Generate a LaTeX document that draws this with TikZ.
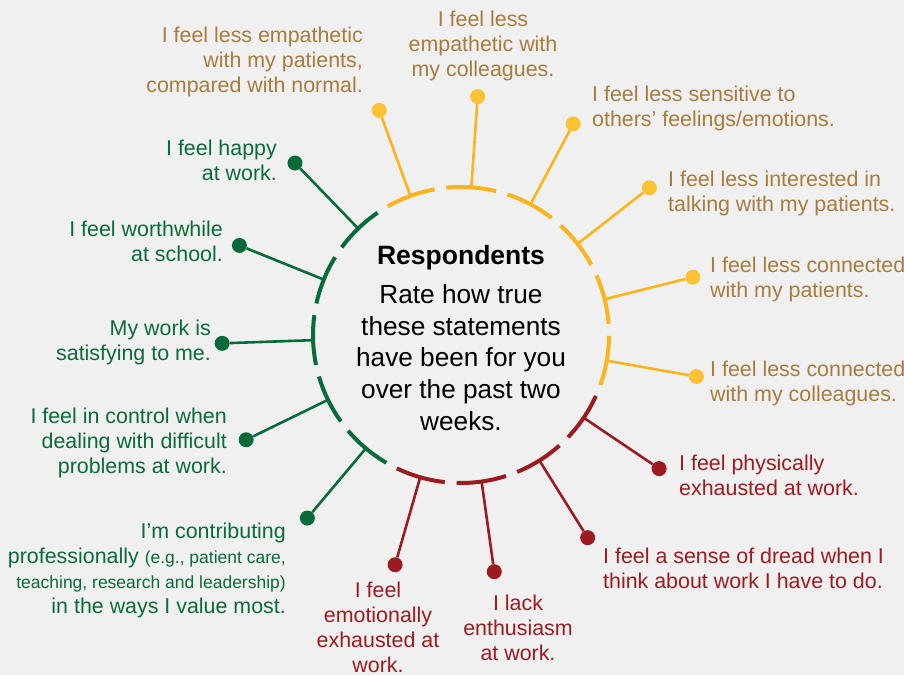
\documentclass[tikz,border=0pt]{standalone}
\usepackage{fontspec}
\setmainfont{Liberation Sans}
\usetikzlibrary{positioning}
\definecolor{paper}{RGB}{240,240,240}
\definecolor{amber}{RGB}{250,180,30}
\definecolor{amberdot}{RGB}{252,194,50}
\definecolor{ambertext}{RGB}{168,123,62}
\definecolor{leafgreen}{RGB}{10,107,58}
\definecolor{brick}{RGB}{155,27,32}

\begin{document}
\begin{tikzpicture}[x=1pt, y=1pt,
        rim/.style={line width=4pt},
        spoke/.style={line width=2.6pt},
        bead/.style={circle, inner sep=0pt, minimum size=15pt},
        lbl/.style={inner sep=0pt, font=\fontsize{21.4}{25}\selectfont},
        lblleft/.style={lbl, anchor=east, align=right},
        lblright/.style={lbl, anchor=west, align=left},
        lblmid/.style={lbl, anchor=center, align=center},
    ]
    \fill[paper] (0,0) rectangle (904,675);
    \useasboundingbox (0,0) rectangle (904,675);
    \coordinate (ctr) at (461,340);

    % ring of arcs, spokes and dots
    \foreach \a/\col/\dotcol [count=\i] in {
        110/amber/amberdot, 86/amber/amberdot, 62/amber/amberdot,
        38/amber/amberdot, 14/amber/amberdot, -10/amber/amberdot,
        -34/brick/brick, -58/brick/brick, -82/brick/brick, -106/brick/brick,
        -130/leafgreen/leafgreen, -154/leafgreen/leafgreen, -178/leafgreen/leafgreen,
        158/leafgreen/leafgreen, 134/leafgreen/leafgreen} {
        \draw[rim, \col] ([shift={(\a-9.7:148)}]ctr) arc[start angle=\a-9.7, end angle=\a+9.7, radius=148];
        \coordinate (c\i) at ([shift={(\a:148)}]ctr);
        \node[bead, fill=\dotcol] (d\i) at ([shift={(\a:239)}]ctr) {};
        \draw[spoke, \col] (c\i) -- (d\i);
    }

    \node[font=\fontsize{26.5}{32}\selectfont\bfseries] (head) at (461,417) {Respondents};
    \node[font=\fontsize{26.2}{31.7}\selectfont, align=center] (ask) at (461,317.5)
        {Rate how true\\these statements\\have been for you\\over the past two\\weeks.};

    % statements
    \node[lblleft, text=ambertext] (l1) at (363,613) {I feel less empathetic\\with my patients,\\compared with normal.};
    \node[lblmid, text=ambertext] (l2) at (483,629) {I feel less\\empathetic with\\my colleagues.};
    \node[lblright, text=ambertext] (l3) at (592,566.5) {I feel less sensitive to\\others’ feelings/emotions.};
    \node[lblright, text=ambertext] (l4) at (668,481.5) {I feel less interested in\\talking with my patients.};
    \node[lblright, text=ambertext] (l5) at (710,395.5) {I feel less connected\\with my patients.};
    \node[lblright, text=ambertext] (l6) at (710,291.5) {I feel less connected\\with my colleagues.};

    \node[lblright, text=brick] (l7) at (679,199.5) {I feel physically\\exhausted at work.};
    \node[lblright, text=brick] (l8) at (603,106.5) {I feel a sense of dread when I\\think about work I have to do.};
    \node[lblmid, text=brick] (l9) at (518,47) {I lack\\enthusiasm\\at work.};
    \node[lblmid, text=brick] (l10) at (378,48) {I feel\\emotionally\\exhausted at\\work.};

    \node[lblleft, text=leafgreen] (l11) at (286,104.25) {I’m contributing\\professionally {\fontsize{17.5}{25}\selectfont (e.g., patient care,}\\{\fontsize{17.5}{25}\selectfont teaching, research and leadership)}\\in the ways I value most.};
    \node[lblleft, text=leafgreen] (l12) at (227,232) {I feel in control when\\dealing with difficult\\problems at work.};
    \node[lblleft, text=leafgreen] (l13) at (211,333) {My work is\\satisfying to me.};
    \node[lblleft, text=leafgreen] (l14) at (223,433.5) {I feel worthwhile\\at school.};
    \node[lblleft, text=leafgreen] (l15) at (277,515) {I feel happy\\at work.};
\end{tikzpicture}
\end{document}
